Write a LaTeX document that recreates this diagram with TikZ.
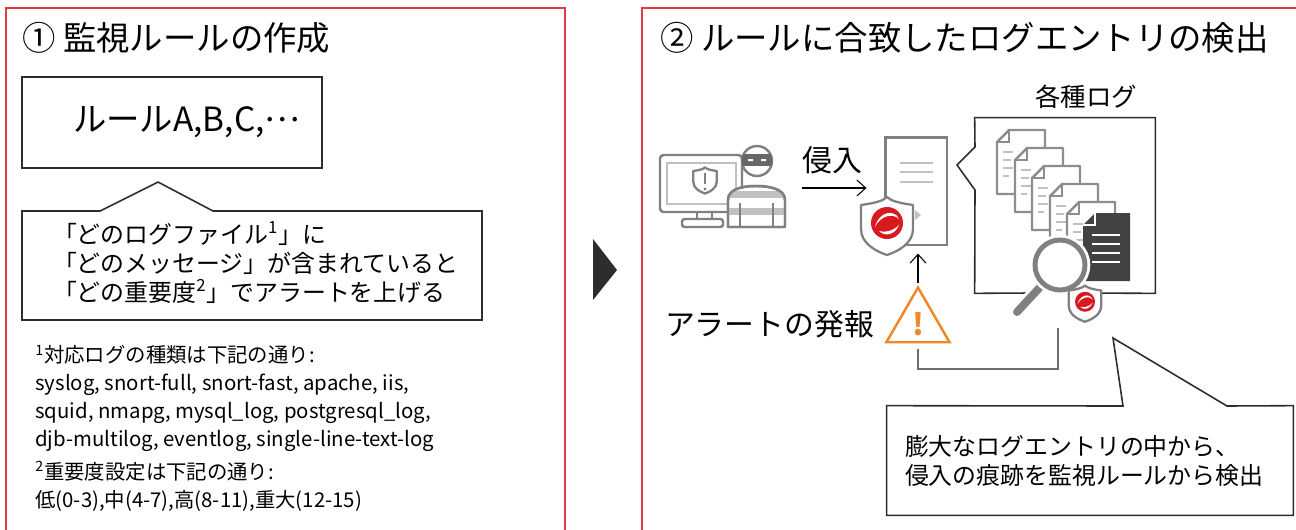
\documentclass[tikz,border=0pt]{standalone}
\usepackage{fontspec}
\setmainfont{Noto Sans CJK JP}
\usepackage{tikz}
\usetikzlibrary{shapes,arrows,arrows.meta,positioning}

\definecolor{panelred}{RGB}{224,58,70}
\definecolor{icongray}{RGB}{128,128,128}
\definecolor{iconlight}{RGB}{192,192,192}
\definecolor{trendred}{RGB}{215,25,32}
\definecolor{alertorange}{RGB}{240,135,40}
\definecolor{boxline}{RGB}{45,45,45}

\begin{document}
\begin{tikzpicture}[
      x=0.02cm, y=-0.02cm,
      node distance = 1cm,
      shield/.pic = {
        \draw[draw=icongray, fill=white, line width=1.3pt, line join=round]
          (-13,-10) .. controls (-6,-11) and (-2,-12) .. (0,-14)
          .. controls (2,-12) and (6,-11) .. (13,-10) -- (13,2)
          .. controls (13,9) and (6,13) .. (0,15)
          .. controls (-6,13) and (-13,9) .. (-13,2) -- cycle;
      },
      logo/.pic = {
        \fill[trendred] (0,-1) circle (8);
        \fill[white] (-6,1) .. controls (-4,-7) and (4,-8) .. (6,-3)
          .. controls (3,-6) and (-3,-5) .. (-6,1) -- cycle;
        \fill[white] (6,0) .. controls (4,5) and (-1,6) .. (-4,3)
          .. controls (-1,4) and (3,3) .. (6,0) -- cycle;
      },
      logsheet/.pic = {
        \draw[draw=icongray!90, fill=white, line width=1.4pt, line join=round]
          (12,0) -- (48,0) -- (48,64) -- (0,64) -- (0,12) -- cycle;
        \draw[icongray!90, line width=1.1pt] (0,12) -- (12,12) -- (12,0);
        \foreach \yy/\len in {22/10, 30/8, 38/10, 46/6}
          \draw[iconlight, line width=1pt] (6,\yy) -- ++(\len,0);
      },
      darksheet/.pic = {
        \fill[boxline!90] (12,0) -- (47,0) -- (47,68) -- (0,68) -- (0,12) -- cycle;
        \draw[white, line width=0.8pt] (0,12) -- (12,12) -- (12,0);
        \foreach \yy in {22, 31, 40, 49}
          \draw[white, line width=1.3pt] (9,\yy) -- (37,\yy);
      }
    ]

    \tikzstyle{panel} = [draw=panelred, line width=0.9pt]
    \tikzstyle{heading} = [anchor=west, inner sep=0pt, font=\fontsize{19pt}{22pt}\selectfont]
    \tikzstyle{rulebox} = [
        rectangle,
        draw=boxline,
        line width=0.9pt,
        minimum height=1.82cm,
        text width=5.12cm,
        inner xsep=0.44cm,
        align=right,
        font=\fontsize{19pt}{22pt}\selectfont
    ]
    \tikzstyle{bubble} = [
        rectangle,
        minimum height=2.18cm,
        align=left,
        font=\fontsize{13.6pt}{16.5pt}\selectfont
    ]
    \tikzstyle{bubbleline} = [draw=boxline, line width=0.9pt, line join=miter]
    \tikzstyle{note} = [anchor=west, inner sep=0pt, align=left, font=\fontsize{11.6pt}{15.9pt}\selectfont]
    \tikzstyle{iconlabel} = [inner sep=0pt, font=\fontsize{17pt}{20pt}\selectfont]
    \tikzstyle{icon} = [draw=icongray, fill=white, line width=1.4pt, line join=round]
    \tikzstyle{line} = [draw, line width=0.6pt, -{Straight Barb[length=5pt,width=9pt]}]
    \tikzstyle{feed} = [draw=icongray!85!black, line width=1pt]

    \useasboundingbox (0,0) rectangle (1296,529);
    \clip (0,0) rectangle (1296,529);

    % two panels, open at the bottom
    \draw[panel] (6,8) rectangle (565,560);
    \draw[panel] (642,8) rectangle (1320,560);

    %%% (1) rules
    \node [heading]                            (title1) at (22,38) {① 監視ルールの作成};
    \node [rulebox]                             (rules) at (172,122.5) {ルールA,B,C,\raisebox{0.3em}{…}};
    \node [bubble, text width=7.96cm, inner xsep=0.62cm] (cond) at (252,262.5)
        {「どのログファイル\textsuperscript{1}」に\\
         「どのメッセージ」が含まれていると\\
         「どの重要度\textsuperscript{2}」でアラートを上げる};
    \draw[bubbleline] (22,211) -- (100,211) -- (158,182) -- (213,211)
        -- (482,211) -- (482,320) -- (22,320) -- cycle;

    \node [note] (notes) at (35,428)
        {\textsuperscript{1}対応ログの種類は下記の通り:\\
         syslog, snort-full, snort-fast, apache, iis,\\
         squid, nmapg, mysql\_log, postgresql\_log,\\
         djb-multilog, eventlog, single-line-text-log\\[0.09cm]
         \textsuperscript{2}重要度設定は下記の通り:\\
         低(0-3),中(4-7),高(8-11),重大(12-15)};

    % step marker
    \fill[boxline] (593,239) -- (617,270) -- (593,300) -- cycle;

    %%% (2) detection
    \node [heading] (title2) at (660,38) {② ルールに合致したログエントリの検出};

    % intruder at the monitor
    \node [minimum width=2.5cm, minimum height=1.52cm, inner sep=0pt] (intruder) at (722.5,188) {};
    \draw[icon, rounded corners=2pt] (660,155) rectangle (742,212);
    \draw[draw=iconlight, line width=1pt] (667,163) rectangle (736,204);
    \draw[icon] (697,212) -- (697,219) (712,212) -- (712,219);
    \draw[icon, rounded corners=1.5pt] (682,219) rectangle (723,227);
    \pic[scale=0.9] at (705,180) {shield};
    \draw[icongray, line width=1.4pt] (705,173) -- (705,184);
    \fill[icongray] (705,189) circle (1.6);

    \draw[icon] (728,227) -- (728,200) .. controls (728,190) and (740,186) .. (756,186)
        .. controls (772,186) and (785,190) .. (785,200) -- (785,227) -- cycle;
    \begin{scope}
      \clip (728,227) -- (728,200) .. controls (728,190) and (740,186) .. (756,186)
          .. controls (772,186) and (785,190) .. (785,200) -- (785,227) -- cycle;
      \fill[iconlight] (720,191) rectangle (790,198);
      \fill[iconlight] (720,208) rectangle (790,215);
    \end{scope}
    \draw[icon, fill=none] (728,227) -- (728,200) .. controls (728,190) and (740,186) .. (756,186)
        .. controls (772,186) and (785,190) .. (785,200) -- (785,227) -- cycle;
    \draw[icongray, line width=1.1pt] (740,203) -- (740,227) (773,203) -- (773,227);
    \draw[icon] (757,161) circle (15);
    \begin{scope}
      \clip (757,161) circle (15);
      \fill[icongray!80!black] (740,154) rectangle (775,166);
    \end{scope}
    \fill[white] (748,159) rectangle (753,161) (761,159) rectangle (766,161);

    % protected server
    \node [draw=icongray, line width=1.7pt, minimum width=1.24cm, minimum height=2.16cm,
           inner sep=0pt] (server) at (916,191) {};
    \foreach \y in {163,172,182}
      \draw[iconlight, line width=1.4pt] (900,\y) -- (933,\y);
    \fill[iconlight] (915,210) -- (921,215) -- (915,220) -- cycle;
    \pic[scale=2] at (887,225) {shield};
    \pic[scale=2] at (887,225) {logo};

    \node [iconlabel] (breach) at (832,160) {侵入};
    \path [line, shorten <=0.34cm, shorten >=0.34cm] (intruder.east) -- (intruder.east -| server.west);

    % alert
    \node [regular polygon, regular polygon sides=3, draw=alertorange, line width=1.4pt,
           minimum size=1.46cm, inner sep=0pt, text=alertorange,
           font=\bfseries\fontsize{17pt}{17pt}\selectfont] (alert) at (918,324) {!};
    \node [iconlabel, left=0.42cm of alert] (alerttext) {アラートの発報};
    \path [line, shorten <=1pt, shorten >=4pt] (alert.north) -- (alert.north |- server.south);

    % log files
    \node [minimum width=3.6cm, minimum height=3.5cm, inner sep=0pt] (logbox) at (1065,205.5) {};
    \node [inner sep=0pt, font=\fontsize{14.5pt}{17pt}\selectfont] (logtitle) at (1086,97) {各種ログ};
    \draw[bubbleline] (1073,293) -- (logbox.south east) -- (logbox.north east)
        -- (logbox.north west) -- (975,147) -- (957,165) -- (975,190)
        -- (logbox.south west) -- (1028,293);
    \foreach \x/\y in {997/130, 1015/148, 1032/166, 1050/184, 1067/202}
      \pic at (\x,\y) {logsheet};
    \pic at (1083,213) {darksheet};

    % magnifier over the logs
    \draw[white, line width=8pt, line cap=round] (1043,284) -- (1017,312);
    \draw[icongray, line width=4.5pt, line cap=round] (1043,284) -- (1017,312);
    \draw[white, line width=6pt] (1060,265) circle (25);
    \draw[icongray, line width=2.8pt, fill=white] (1060,265) circle (25);
    \pic[scale=1.25] at (1085,303) {shield};
    \pic[scale=1.25] at (1085,303) {logo};

    \coordinate (found) at (1058,328);
    \draw[feed] (found) -- ++(0,41) -| ([yshift=-3pt]alert.south);

    % what the detection does
    \node [bubble, text width=7.4cm, inner xsep=0.36cm] (trace) at (1090,460.5)
        {膨大なログエントリの中から、\\侵入の痕跡を監視ルールから検出};
    \draw[bubbleline] (trace.north west) -- (1123,406) -- (1113,338) -- (1227,406)
        -- (trace.north east) -- (trace.south east) -- (trace.south west) -- cycle;

\end{tikzpicture}
\end{document}
